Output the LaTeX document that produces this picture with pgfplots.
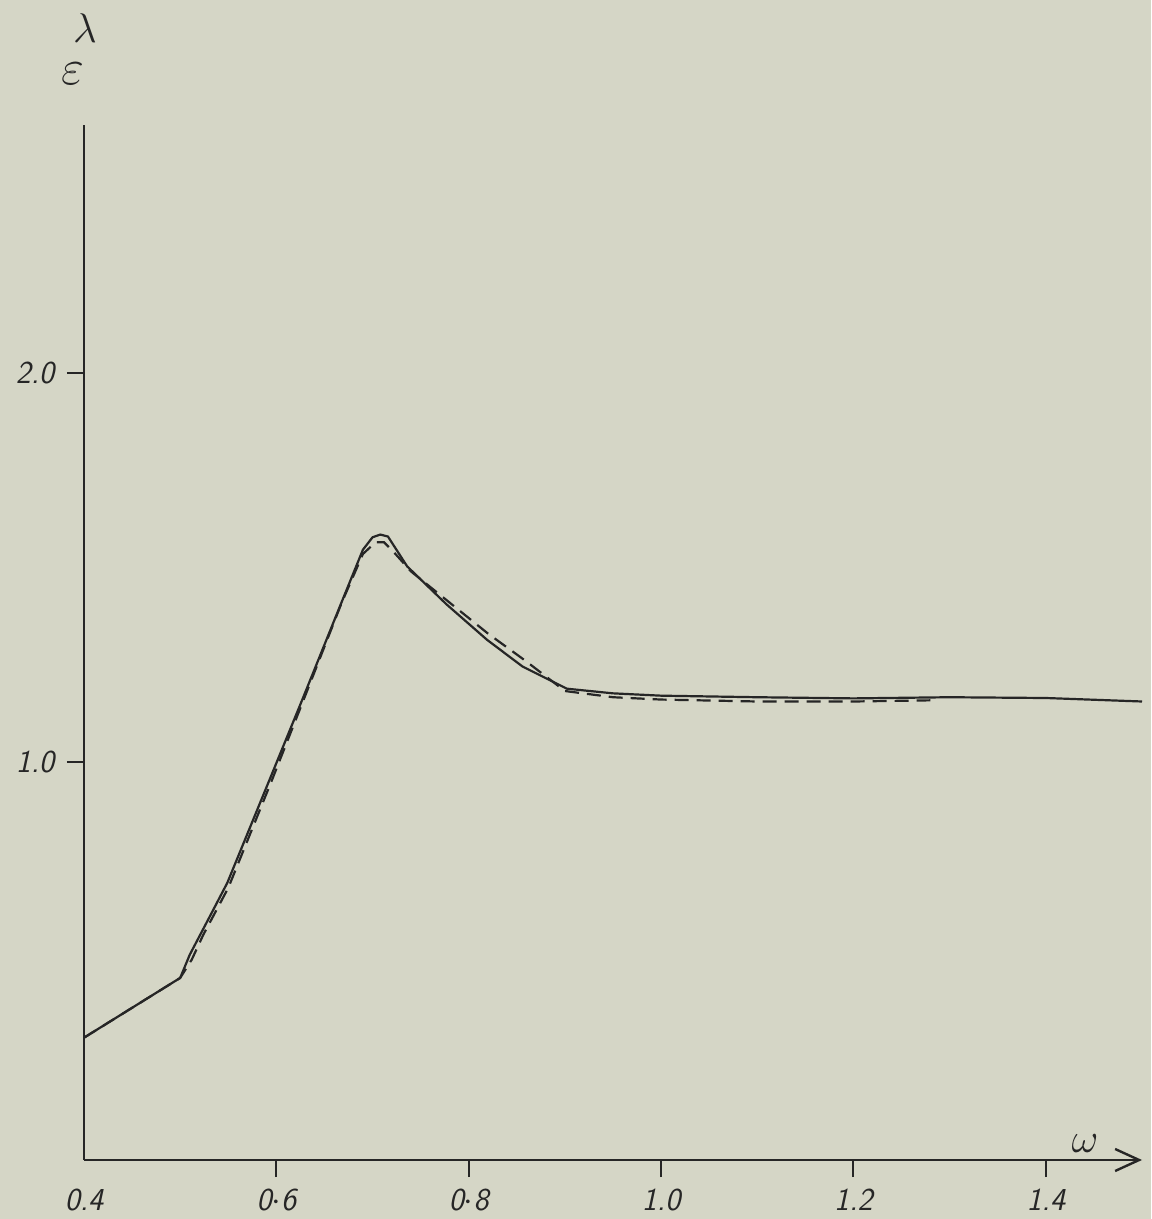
\documentclass[border=0pt]{standalone}
\usepackage{pgfplots}
\pgfplotsset{compat=1.18}
\usetikzlibrary{arrows.meta}
\definecolor{bg}{HTML}{D5D6C6}
\definecolor{ink}{HTML}{262626}
\begin{document}
\begin{tikzpicture}
\fill[bg] (-42pt,-29.5pt) rectangle (533.5pt,580pt);
\path[use as bounding box] (-42pt,-29.5pt) rectangle (533.5pt,580pt);
\begin{axis}[
  at={(0,0)}, anchor=south west,
  scale only axis, width=529pt, height=517.5pt,
  xmin=0.4, xmax=1.5, ymin=-0.026, ymax=2.64,
  clip=false,
  axis lines=left,
  axis line style={ink, line width=1.2pt},
  x axis line style={-{Straight Barb[length=12pt,width=11pt,line width=1.2pt]}},
  y axis line style={-},
  tick align=outside,
  major tick length=8.5pt,
  tick style={ink, line width=1pt},
  xtick={0.6,0.8,1.0,1.2,1.4},
  xticklabels={0$\cdot$6,0$\cdot$8,1.0,1.2,1.4},
  extra x ticks={0.4},
  extra x tick labels={0.4},
  extra x tick style={major tick style={draw=none}},
  ytick={1,2},
  yticklabels={1.0,2.0},
  ticklabel style={font=\sffamily\itshape\fontsize{16}{18}\selectfont, text=ink},
  xticklabel style={anchor=center, yshift=-11.5pt},
  yticklabel style={anchor=center, xshift=-16pt},
]
\addplot[ink, line width=1.1pt, line join=round] coordinates {
(0.4,0.289) (0.5,0.443) (0.51,0.503) (0.536,0.626) (0.549,0.688) (0.593,0.954)
(0.627,1.16) (0.669,1.418) (0.690,1.546) (0.700,1.578) (0.708,1.585) (0.716,1.580)
(0.736,1.503) (0.777,1.405) (0.819,1.314) (0.856,1.245) (0.902,1.188) (0.95,1.176)
(1.0,1.170) (1.1,1.166) (1.2,1.163) (1.3,1.166) (1.4,1.164) (1.5,1.155)
};
\addplot[ink, line width=1.1pt, dash pattern=on 7pt off 4pt] coordinates {
(0.4,0.289) (0.5,0.443) (0.512,0.49) (0.524,0.554) (0.55,0.675) (0.595,0.95)
(0.63,1.17) (0.668,1.41) (0.69,1.535) (0.703,1.565) (0.712,1.565) (0.722,1.54)
(0.74,1.49) (0.78,1.41) (0.82,1.33) (0.86,1.258) (0.9,1.182) (0.95,1.166)
(1.0,1.160) (1.1,1.155) (1.2,1.155) (1.28,1.158)
};
\end{axis}
\node[text=ink, font=\fontsize{22}{24}\selectfont] at (500.5pt,8pt) {$\omega$};
\node[text=ink, font=\fontsize{20}{22}\selectfont] at (0.5pt,566pt) {$\lambda$};
\node[text=ink, font=\fontsize{24}{26}\selectfont] at (-5.5pt,543pt) {$\varepsilon$};
\end{tikzpicture}
\end{document}
